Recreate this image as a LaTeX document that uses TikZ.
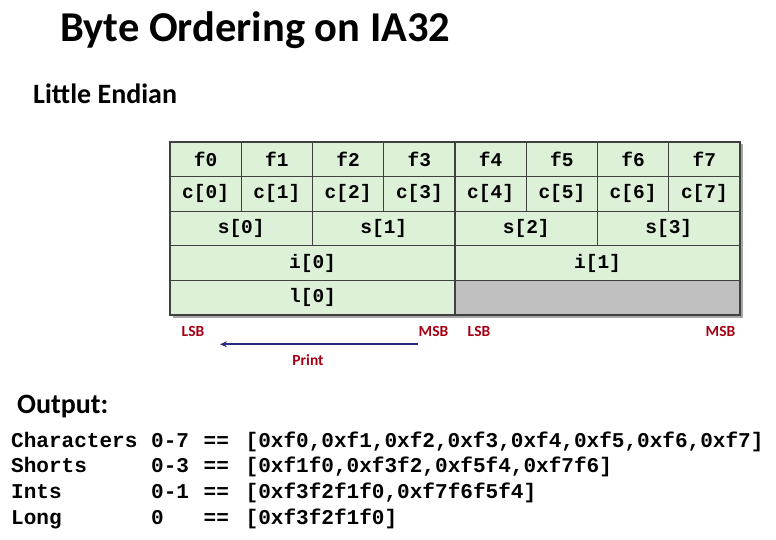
\documentclass[tikz,border=0pt]{standalone}
\usepackage{fontspec}
\setmainfont{Carlito}
\setmonofont{Liberation Mono}
\usetikzlibrary{arrows.meta}
\definecolor{cellgreen}{RGB}{221,240,216}
\definecolor{padgray}{RGB}{192,192,192}
\definecolor{lblred}{RGB}{165,0,20}
\definecolor{printblue}{RGB}{42,44,128}
\newcommand{\outrow}[3]{\makebox[140pt][l]{#1}\makebox[52.5pt][l]{#2}\makebox[42pt][l]{==}#3}
\begin{document}
\begin{tikzpicture}[x=1pt,y=-1pt,
  cell/.style={draw=black!75,line width=1.1pt,fill=cellgreen,inner sep=0pt,minimum height=34.6pt,font=\fontsize{19.5}{20}\ttfamily\bfseries},
  bytelbl/.style={text=lblred,font=\fontsize{15.5}{16}\bfseries,inner sep=0pt},
  outline/.style={anchor=base west,inner sep=0pt,font=\fontsize{21.05}{22}\ttfamily\bfseries}]
\useasboundingbox (0,0) rectangle (776,540);
\node[anchor=base west,inner sep=0pt,font=\fontsize{42.5}{44}\bfseries] (title) at (60,42) {Byte Ordering on IA32};
\node[anchor=base west,inner sep=0pt,font=\fontsize{28}{30}\bfseries] (endian) at (33,104) {Little Endian};
% shadow behind the table
\fill[black!35] (172.5,144.5) rectangle (742.5,317.5);
% bytes
\node[cell,minimum width=71.25pt] (f0) at (205.6,159.3) {f0};
\node[cell,minimum width=71.25pt] (f1) at (276.9,159.3) {f1};
\node[cell,minimum width=71.25pt] (f2) at (348.1,159.3) {f2};
\node[cell,minimum width=71.25pt] (f3) at (419.4,159.3) {f3};
\node[cell,minimum width=71.25pt] (f4) at (490.6,159.3) {f4};
\node[cell,minimum width=71.25pt] (f5) at (561.9,159.3) {f5};
\node[cell,minimum width=71.25pt] (f6) at (633.1,159.3) {f6};
\node[cell,minimum width=71.25pt] (f7) at (704.4,159.3) {f7};
% chars
\node[cell,minimum width=71.25pt] (c0) at (205.6,193.9) {c[0]};
\node[cell,minimum width=71.25pt] (c1) at (276.9,193.9) {c[1]};
\node[cell,minimum width=71.25pt] (c2) at (348.1,193.9) {c[2]};
\node[cell,minimum width=71.25pt] (c3) at (419.4,193.9) {c[3]};
\node[cell,minimum width=71.25pt] (c4) at (490.6,193.9) {c[4]};
\node[cell,minimum width=71.25pt] (c5) at (561.9,193.9) {c[5]};
\node[cell,minimum width=71.25pt] (c6) at (633.1,193.9) {c[6]};
\node[cell,minimum width=71.25pt] (c7) at (704.4,193.9) {c[7]};
% shorts
\node[cell,minimum width=142.5pt] (s0) at (241.25,228.5) {s[0]};
\node[cell,minimum width=142.5pt] (s1) at (383.75,228.5) {s[1]};
\node[cell,minimum width=142.5pt] (s2) at (526.25,228.5) {s[2]};
\node[cell,minimum width=142.5pt] (s3) at (668.75,228.5) {s[3]};
% ints
\node[cell,minimum width=285pt] (i0) at (312.5,263.1) {i[0]};
\node[cell,minimum width=285pt] (i1) at (597.5,263.1) {i[1]};
% long
\node[cell,minimum width=285pt] (l0) at (312.5,297.7) {l[0]};
\node[cell,minimum width=285pt,fill=padgray] (pad) at (597.5,297.7) {};
% byte order labels
\node[bytelbl,anchor=base west] (lsbA) at (181.5,336) {LSB};
\node[bytelbl,anchor=base east] (msbA) at (448.5,336) {MSB};
\node[bytelbl,anchor=base west] (lsbB) at (467.5,336) {LSB};
\node[bytelbl,anchor=base east] (msbB) at (735.5,336) {MSB};
\coordinate (printR) at (418,344.3);
\coordinate (printL) at (220,344.3);
\draw[printblue,line width=1.9pt,-{Stealth[length=7pt,width=6pt]}] (printR) -- (printL);
\node[bytelbl,anchor=base] (print) at (308,365) {Print};
% output
\node[anchor=base west,inner sep=0pt,font=\fontsize{28}{30}\bfseries] (output) at (17,413) {Output:};
\node[outline] (chars) at (11,447) {\outrow{Characters}{0-7}{[0xf0,0xf1,0xf2,0xf3,0xf4,0xf5,0xf6,0xf7]}};
\node[outline] (shorts) at (11,472.7) {\outrow{Shorts}{0-3}{[0xf1f0,0xf3f2,0xf5f4,0xf7f6]}};
\node[outline] (ints) at (11,498.4) {\outrow{Ints}{0-1}{[0xf3f2f1f0,0xf7f6f5f4]}};
\node[outline] (long) at (11,524) {\outrow{Long}{0}{[0xf3f2f1f0]}};
\end{tikzpicture}
\end{document}
